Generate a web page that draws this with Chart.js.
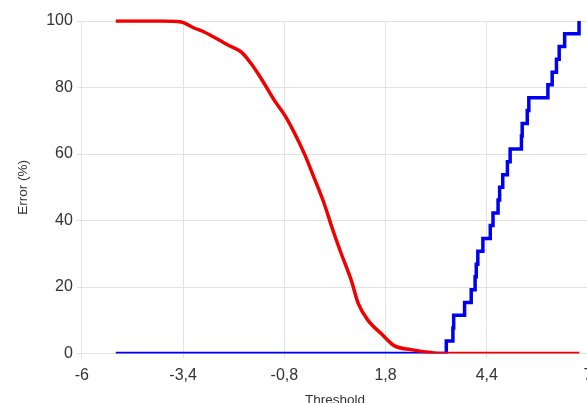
<!DOCTYPE html>
<html>
<head>
<meta charset="utf-8">
<script src="https://cdn.jsdelivr.net/npm/chart.js@4.4.1/dist/chart.umd.min.js"></script>
<style>
  html, body { margin:0; padding:0; background:#fff; overflow:hidden; }
  #wrap { width:587px; height:403px; overflow:hidden; }
</style>
</head>
<body>
<div id="wrap"><canvas id="chart" width="600" height="412"></canvas></div>
<script>
// ========================
// DATA
// ========================
const redX  = [-5.13, -3.97, -3.45, -3.12, -2.86, -2.25, -1.91, -1.66, -1.40, -1.06, -0.76, -0.29, -0.04, 0.22, 0.45, 0.66, 0.92, 1.10, 1.35, 1.69, 2.02, 2.46, 2.97, 3.23, 6.78];
const redY  = [100, 100, 99.7, 97.9, 96.7, 92.8, 90.7, 87.3, 82.8, 76.2, 71.1, 60.2, 53, 45.2, 37, 30.1, 22, 15, 10, 6, 2.4, 1.2, 0.3, 0, 0];

const blueX = [-5.13, 3.36, 3.53, 3.55, 3.83, 4.00, 4.10, 4.13, 4.17, 4.30, 4.49, 4.56, 4.69, 4.73, 4.81, 4.93, 5.00, 5.29, 5.31, 5.44, 5.48, 5.97, 6.08, 6.19, 6.26, 6.40, 6.77];
const blueY = [0, 3.8, 7.7, 11.5, 15.4, 19.2, 23.1, 26.9, 30.8, 34.6, 38.5, 42.3, 46.2, 50, 53.8, 57.7, 61.5, 65.4, 69.2, 73.1, 76.9, 80.8, 84.6, 88.5, 92.3, 96.2, 100];

const X_MIN = -6, X_MAX = 7, X_STEP = 2.6;
const Y_STEP = 20;

const toPoints = (xs, ys) => xs.map((x, i) => ({ x: x, y: ys[i] }));
const fmtComma = v => String(Math.round(v * 10) / 10).replace('.', ',');

// ========================
// CHART
// ========================
Chart.defaults.font.family = '"Liberation Sans", Arial, sans-serif';
Chart.defaults.color = '#333';

new Chart(document.getElementById('chart'), {
  type: 'line',
  data: {
    datasets: [
      { data: toPoints(redX, redY), borderColor: '#f00000', borderWidth: 3.5,
        pointRadius: 0, cubicInterpolationMode: 'monotone', borderJoinStyle: 'round' },
      { data: toPoints(blueX, blueY), borderColor: '#0000f0', borderWidth: 3.5,
        pointRadius: 0, stepped: 'before', borderJoinStyle: 'miter' }
    ]
  },
  options: {
    responsive: false,
    animation: false,
    devicePixelRatio: 1,
    layout: { padding: { left: 15, top: 21, right: 12, bottom: 0 } },
    plugins: { legend: { display: false }, tooltip: { enabled: false } },
    scales: {
      x: {
        type: 'linear', min: X_MIN, max: X_MAX,
        grid: { color: '#e2e2e2', tickLength: 5 },
        border: { color: '#e2e2e2' },
        ticks: { stepSize: X_STEP, padding: 7, font: { size: 16 }, color: '#333', callback: fmtComma },
        title: { display: true, text: 'Threshold', font: { size: 13.5 }, color: '#333', padding: { top: 0, bottom: 4 } }
      },
      y: {
        min: 0,
        grid: { color: '#e2e2e2', tickLength: 5 },
        border: { color: '#e2e2e2' },
        ticks: { stepSize: Y_STEP, padding: 4, font: { size: 16 }, color: '#333' },
        title: { display: true, text: 'Error (%)', font: { size: 13.5 }, color: '#333', padding: { top: 0, bottom: 11 } }
      }
    }
  }
});
</script>
</body>
</html>
